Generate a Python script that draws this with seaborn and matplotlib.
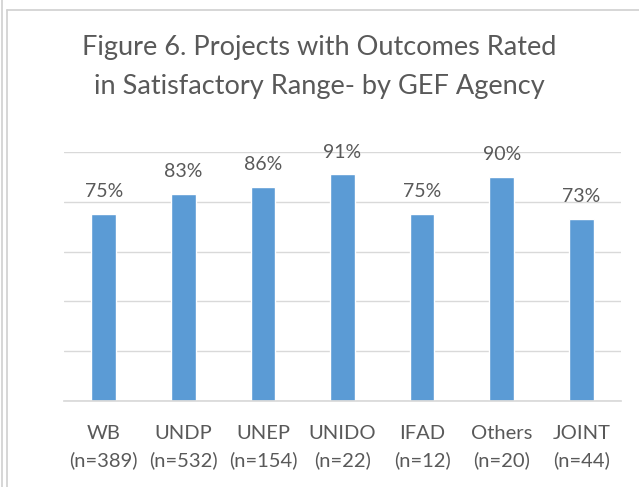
import matplotlib
matplotlib.use("Agg")
import matplotlib.pyplot as plt
import seaborn as sns
import pandas as pd
from matplotlib.lines import Line2D

# data
agencies = ["WB", "UNDP", "UNEP", "UNIDO", "IFAD", "Others", "JOINT"]
counts = [389, 532, 154, 22, 12, 20, 44]
share = [0.75, 0.83, 0.86, 0.91, 0.75, 0.90, 0.73]

labels = [f"{a}\n(n={n})" for a, n in zip(agencies, counts)]
df = pd.DataFrame({"agency": labels, "share": share})

sns.set_theme(style="white")
plt.rcParams["font.family"] = ["Lato", "DejaVu Sans"]
txt = "#595959"

fig = plt.figure(figsize=(6.39, 4.87), dpi=100)
ax = fig.add_axes([64 / 639, 1 - 401 / 487, 557 / 639, 249 / 487])

sns.barplot(data=df, x="agency", y="share", color="#5B9BD5", saturation=1,
            width=0.31, ax=ax)

ax.set_ylim(0, 1.0)
ax.set_yticks([0, 0.2, 0.4, 0.6, 0.8, 1.0])
ax.yaxis.grid(True, color="#D9D9D9", linewidth=1)
ax.set_axisbelow(True)
ax.tick_params(axis="y", left=False, labelleft=False)
ax.tick_params(axis="x", bottom=False, labelsize=14.5, colors=txt, pad=11)
for t in ax.get_xticklabels():
    t.set_linespacing(1.65)
for s in ["top", "right", "left"]:
    ax.spines[s].set_visible(False)
ax.spines["bottom"].set_color("#D9D9D9")
ax.set_xlabel("")
ax.set_ylabel("")

for c in ax.containers:
    ax.bar_label(c, labels=[f"{v:.0%}" for v in share], padding=10,
                 fontsize=14, color=txt)

fig.text(0.5, 1 - 67 / 487, "Figure 6. Projects with Outcomes Rated\nin Satisfactory Range- by GEF Agency",
         ha="center", va="center", fontsize=19.5, color=txt, linespacing=1.7)

# chart frame
frame = "#D0D0D0"
fig.add_artist(Line2D([1.5 / 639, 1.5 / 639], [0, 1], transform=fig.transFigure, color=frame, lw=1.2))
fig.add_artist(Line2D([6.5 / 639, 6.5 / 639], [0, 1 - 10 / 487], transform=fig.transFigure, color=frame, lw=1.2))
fig.add_artist(Line2D([6.5 / 639, 1], [1 - 10 / 487, 1 - 10 / 487], transform=fig.transFigure, color=frame, lw=1.2))

fig.savefig("out.png", dpi=100)
